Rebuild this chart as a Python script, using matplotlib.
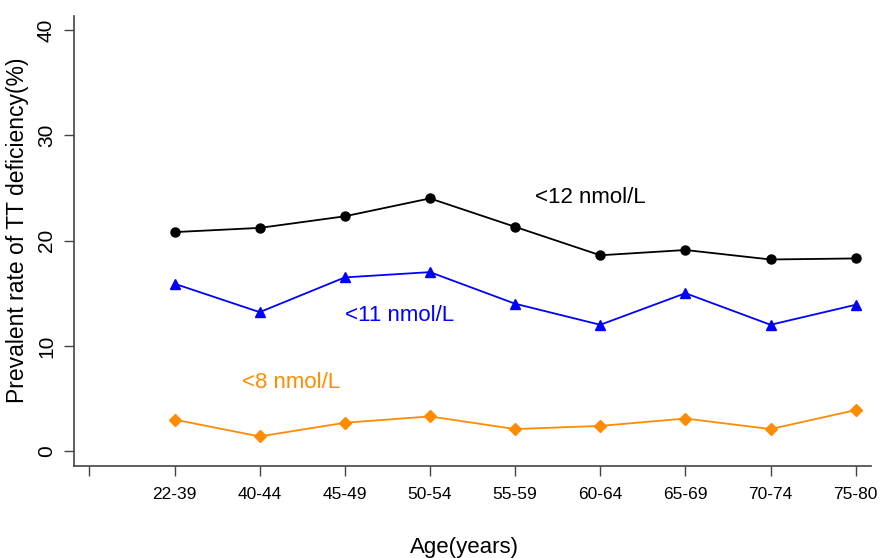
import matplotlib
matplotlib.use('Agg')
import matplotlib.pyplot as plt

plt.rcParams['font.family'] = ['Liberation Sans', 'DejaVu Sans']

ages = ['22-39', '40-44', '45-49', '50-54', '55-59', '60-64', '65-69', '70-74', '75-80']
lt12 = [20.8, 21.2, 22.3, 24.0, 21.3, 18.6, 19.1, 18.2, 18.3]
lt11 = [15.9, 13.2, 16.5, 17.0, 14.0, 12.0, 15.0, 12.0, 13.9]
lt8 = [3.0, 1.4, 2.7, 3.3, 2.1, 2.4, 3.1, 2.1, 3.9]

xs = list(range(1, len(ages) + 1))

fig = plt.figure(figsize=(8.92, 5.58), dpi=100)
ax = fig.add_axes([0.083, 0.165, 0.8935, 0.806])

ax.plot(xs, lt12, color='black', marker='o', markersize=6.5, lw=1.3)
ax.plot(xs, lt11, color='blue', marker='^', markersize=7.5, lw=1.3)
ax.plot(xs, lt8, color='darkorange', marker='D', markersize=6, lw=1.3)

ax.text(5.88, 24.1, '<12 nmol/L', color='black', fontsize=16, ha='center', va='center')
ax.text(3.64, 12.9, '<11 nmol/L', color='blue', fontsize=16, ha='center', va='center')
ax.text(2.37, 6.5, '<8 nmol/L', color='darkorange', fontsize=16, ha='center', va='center')

ax.set_xlim(-0.18, 9.18)
ax.set_ylim(-1.4, 41.3)
ax.set_xticks([0] + xs)
ax.set_xticklabels([''] + ages, fontsize=12.5)
ax.set_yticks([0, 10, 20, 30, 40])
ax.set_yticklabels(['0', '10', '20', '30', '40'], fontsize=15, rotation=90, va='center')

for s in ['top', 'right']:
    ax.spines[s].set_visible(False)
for s in ['left', 'bottom']:
    ax.spines[s].set_color('#444444')
    ax.spines[s].set_linewidth(1.2)
ax.tick_params(axis='x', direction='out', length=7, width=1, color='#444444', pad=8)
ax.tick_params(axis='y', direction='out', length=7, width=1, color='#444444', pad=6)

ax.set_xlabel('Age(years)', fontsize=16)
ax.xaxis.set_label_coords(0.49, -0.158)
ax.set_ylabel('Prevalent rate of TT deficiency(%)', fontsize=16.5)
ax.yaxis.set_label_coords(-0.057, 0.524)

plt.savefig('out.png', dpi=100)
